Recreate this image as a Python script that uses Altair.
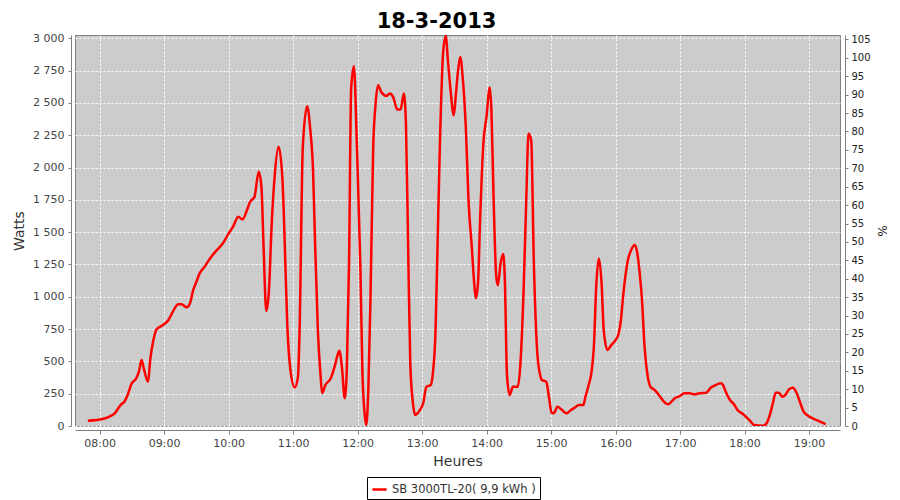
import altair as alt
import pandas as pd

TITLE = "18-3-2013"
SERIES = "SB 3000TL-20( 9,9 kWh )"
X_TITLE = "Heures"
Y_TITLE = "Watts"
Y2_TITLE = "%"

times = [
    "07:49:00", "07:57:00", "08:09:00", "08:14:00", "08:20:00", "08:23:00", "08:26:00", "08:29:30",
    "08:34:00", "08:36:30", "08:39:00", "08:41:00", "08:45:00", "08:47:00", "08:50:00", "08:53:00",
    "08:59:00", "09:04:00", "09:08:00", "09:13:00", "09:16:00", "09:21:00", "09:24:00", "09:27:00",
    "09:30:00", "09:33:00", "09:38:00", "09:42:00", "09:49:00", "09:55:00", "10:00:00", "10:04:00",
    "10:09:00", "10:13:00", "10:16:30", "10:20:00", "10:24:00", "10:28:00", "10:30:30", "10:32:30",
    "10:35:00", "10:37:30", "10:40:00", "10:43:00", "10:46:30", "10:50:00", "10:52:00", "10:54:30",
    "10:57:30", "11:01:30", "11:04:30", "11:06:00", "11:09:00", "11:13:00", "11:16:00", "11:18:30",
    "11:20:00", "11:23:00", "11:25:30", "11:27:00", "11:30:00", "11:35:00", "11:39:00", "11:43:00",
    "11:45:30", "11:48:00", "11:50:00", "11:52:00", "11:54:00", "11:56:30", "11:59:30", "12:02:30",
    "12:04:30", "12:06:30", "12:08:00", "12:10:00", "12:12:00", "12:14:30", "12:16:30", "12:19:00",
    "12:22:00", "12:27:00", "12:30:00", "12:33:00", "12:37:00", "12:40:00", "12:43:00", "12:45:00",
    "12:47:00", "12:49:00", "12:51:30", "12:53:30", "12:58:00", "13:01:00", "13:04:00", "13:08:00",
    "13:10:00", "13:12:30", "13:14:00", "13:16:30", "13:19:30", "13:22:00", "13:24:00", "13:26:30",
    "13:29:30", "13:31:30", "13:33:30", "13:35:30", "13:38:00", "13:40:30", "13:43:30", "13:46:00",
    "13:48:30", "13:50:00", "13:52:00", "13:54:00", "13:57:00", "14:00:00", "14:03:00", "14:04:30",
    "14:06:30", "14:09:00", "14:10:30", "14:13:00", "14:15:30", "14:17:00", "14:19:00", "14:21:30",
    "14:24:30", "14:29:00", "14:31:30", "14:34:30", "14:37:00", "14:39:00", "14:41:30", "14:44:00",
    "14:47:00", "14:49:30", "14:51:30", "14:55:30", "14:58:00", "15:00:30", "15:02:30", "15:06:00",
    "15:09:30", "15:14:30", "15:18:30", "15:22:00", "15:26:00", "15:30:00", "15:32:00", "15:35:00",
    "15:37:30", "15:40:00", "15:42:00", "15:44:30", "15:47:00", "15:49:00", "15:52:30", "15:56:00",
    "16:00:00", "16:02:30", "16:05:00", "16:07:00", "16:09:30", "16:11:30", "16:14:30", "16:18:00",
    "16:20:00", "16:22:30", "16:24:30", "16:27:00", "16:29:30", "16:32:30", "16:36:30", "16:41:00",
    "16:46:00", "16:49:00", "16:52:00", "16:55:00", "17:00:00", "17:04:00", "17:09:00", "17:13:30",
    "17:18:00", "17:24:30", "17:28:30", "17:33:00", "17:38:00", "17:40:00", "17:42:30", "17:46:30",
    "17:50:00", "17:53:30", "17:58:30", "18:04:30", "18:09:00", "18:17:00", "18:20:00", "18:24:00",
    "18:26:30", "18:29:00", "18:32:00", "18:35:00", "18:38:00", "18:41:30", "18:45:00", "18:48:00",
    "18:51:30", "18:55:00", "18:59:00", "19:03:30", "19:08:30", "19:12:30", "19:15:30",
]

watts = [
    41, 46, 72, 98, 168, 188, 240, 325,
    369, 420, 510, 446, 343, 510, 665, 748,
    781, 820, 884, 943, 943, 918, 949, 1052,
    1116, 1181, 1237, 1289, 1361, 1418, 1490, 1541,
    1619, 1599, 1658, 1735, 1773, 1967, 1851, 1387,
    889, 1052, 1554, 1954, 2160, 1916, 1464, 794,
    433, 299, 381, 742, 2160, 2475, 2289, 1980,
    1541, 742, 394, 253, 317, 369, 472, 582,
    446, 214, 459, 1258, 2612, 2784, 2121, 1258,
    408, 98, 8, 291, 1000, 2160, 2470, 2637,
    2585, 2555, 2573, 2547, 2449, 2449, 2573, 2328,
    1387, 485, 176, 85, 124, 176, 304, 317,
    408, 742, 1258, 2160, 2882, 3020, 2830, 2599,
    2405, 2573, 2753, 2856, 2676, 2341, 1696, 1413,
    1104, 990, 1104, 1606, 2186, 2398, 2620, 2444,
    1773, 1155, 1090, 1258, 1330, 1129, 394, 240,
    304, 304, 485, 1065, 1773, 2264, 2212, 1258,
    588, 408, 356, 343, 227, 103, 98, 149,
    129, 98, 124, 142, 162, 162, 227, 317,
    410, 640, 1077, 1297, 1104, 742, 588, 626,
    665, 704, 820, 1000, 1181, 1284, 1361, 1400,
    1348, 1181, 988, 613, 408, 304, 278, 232,
    180, 168, 188, 214, 232, 253, 253, 245,
    253, 258, 296, 317, 330, 317, 265, 201,
    170, 124, 93, 46, 8, 2, 15, 98,
    180, 258, 258, 227, 240, 284, 296, 265,
    188, 111, 80, 59, 41, 26, 15,
]

x_ticks = [8, 9, 10, 11, 12, 13, 14, 15, 16, 17, 18, 19]
y_ticks = [0, 250, 500, 750, 1000, 1250, 1500, 1750, 2000, 2250, 2500, 2750, 3000]
pct_ticks = [0, 5, 10, 15, 20, 25, 30, 35, 40, 45, 50, 55, 60, 65, 70, 75, 80, 85, 90, 95, 100, 105]


def to_hours(s):
    h, m, sec = (int(v) for v in s.split(":"))
    return h + m / 60 + sec / 3600


df = pd.DataFrame({
    "hour": [to_hours(t) for t in times],
    "watts": watts,
    "series": [SERIES] * len(times),
})

FONT = "DejaVu Sans"
X_DOMAIN = [7.617, 19.481]
Y_DOMAIN = [0, 3025.6]
P_DOMAIN = [0, 106.2]

base = alt.Chart(df)

line = base.mark_line(
    strokeWidth=2.5, interpolate="monotone", clip=True
).encode(
    x=alt.X(
        "hour:Q",
        scale=alt.Scale(domain=X_DOMAIN, nice=False, zero=False),
        axis=alt.Axis(
            values=x_ticks,
            labelExpr="(datum.value < 10 ? '0' : '') + datum.value + ':00'",
            title=X_TITLE,
            offset=4,
            grid=True,
            gridColor="#ffffff",
            gridDash=[2, 2],
            gridWidth=1,
            domainColor="#808080",
            tickColor="#808080",
            tickSize=4,
            labelFont=FONT,
            labelFontSize=11,
            labelColor="#444444",
            labelPadding=3,
            titleFont=FONT,
            titleFontSize=14,
            titleFontWeight="normal",
            titleColor="#333333",
            titlePadding=6,
        ),
    ),
    y=alt.Y(
        "watts:Q",
        scale=alt.Scale(domain=Y_DOMAIN, nice=False, zero=True),
        axis=alt.Axis(
            values=y_ticks,
            labelExpr="replace(format(datum.value, ','), ',', ' ')",
            title=Y_TITLE,
            offset=4,
            grid=True,
            gridColor="#ffffff",
            gridDash=[2, 2],
            gridWidth=1,
            domainColor="#808080",
            tickColor="#808080",
            tickSize=3,
            labelFont=FONT,
            labelFontSize=11,
            labelColor="#444444",
            labelPadding=4,
            titleFont=FONT,
            titleFontSize=14,
            titleFontWeight="normal",
            titleColor="#333333",
            titlePadding=6,
        ),
    ),
    color=alt.Color(
        "series:N",
        scale=alt.Scale(domain=[SERIES], range=["#ff0000"]),
        legend=alt.Legend(
            title=None,
            orient="none",
            legendX=292,
            legendY=442,
            strokeColor="#000000",
            fillColor="#ffffff",
            padding=4,
            cornerRadius=0,
            symbolType="stroke",
            symbolStrokeWidth=2.5,
            symbolSize=200,
            labelFont=FONT,
            labelFontSize=11.5,
            labelColor="#333333",
        ),
    ),
)

pct = base.mark_line(opacity=0).encode(
    x=alt.X("hour:Q", scale=alt.Scale(domain=X_DOMAIN, nice=False, zero=False)),
    y=alt.Y(
        "p:Q",
        scale=alt.Scale(domain=P_DOMAIN, nice=False, zero=True),
        axis=alt.Axis(
            orient="right",
            values=pct_ticks,
            title=Y2_TITLE,
            offset=5,
            grid=False,
            domainColor="#808080",
            tickColor="#808080",
            tickSize=3,
            labelFont=FONT,
            labelFontSize=10,
            labelColor="#222222",
            labelPadding=3,
            titleFont=FONT,
            titleFontSize=12,
            titleFontWeight="normal",
            titleColor="#222222",
            titlePadding=4,
        ),
    ),
).transform_calculate(p="datum.watts / 28.43")

chart = alt.layer(line, pct).resolve_scale(y="independent").properties(
    width=765,
    height=391,
    background="#ffffff",
    title=alt.TitleParams(
        TITLE,
        font=FONT,
        fontSize=21,
        fontWeight="bold",
        color="#000000",
        anchor="middle",
        frame="group",
        dx=-21,
        offset=0,
    ),
    autosize=alt.AutoSizeParams(type="none"),
    padding={"left": 67, "top": 27, "right": 52, "bottom": 74},
).configure_view(
    fill="#cccccc", stroke="#808080", strokeWidth=1
)

chart.save("out.html", embed_options={"renderer": "svg", "actions": False})
